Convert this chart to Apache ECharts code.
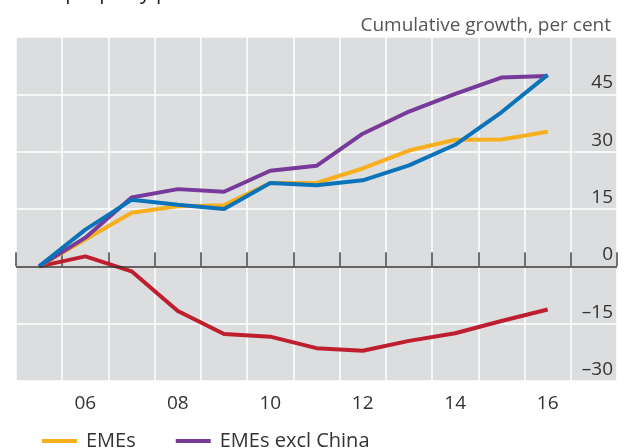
<!DOCTYPE html>
<html>
<head>
<meta charset="utf-8">
<script src="https://cdn.jsdelivr.net/npm/echarts@6/dist/echarts.min.js"></script>
<style>
  html, body { margin: 0; padding: 0; background: #fff; }
  #chart { width: 630px; height: 448px; }
</style>
</head>
<body>
<div id="chart"></div>
<script>
// years 2005..2017 (last slot empty)
const years = ["05", "06", "07", "08", "09", "10", "11", "12", "13", "14", "15", "16", "17"];

const emes = [0, 7, 14, 15.7, 16, 21.8, 21.8, 25.6, 30.3, 33.1, 33.2, 35.2];
const emesExChina = [0, 7.5, 18, 20.2, 19.5, 25, 26.3, 34.7, 40.5, 45.1, 49.4, 49.8];
const blueSeries = [0, 9.6, 17.4, 16.1, 15, 21.8, 21.2, 22.5, 26.4, 31.8, 40.3, 50.1];
const redSeries = [0, 2.6, -1.3, -11.7, -17.7, -18.4, -21.4, -22.1, -19.5, -17.5, -14.3, -11.3];

const yTicks = { min: -30, max: 60, step: 15 };

const font = "'Open Sans', 'Noto Sans', sans-serif";

const lineSeries = (name, data, color) => ({
  name: name,
  type: "line",
  data: data,
  symbol: "none",
  lineStyle: { color: color, width: 4 },
  itemStyle: { color: color },
  animation: false
});

const chart = echarts.init(document.getElementById("chart"), null, { renderer: "canvas" });

const orange = lineSeries("EMEs", emes, "#F8AF1E");
orange.markLine = {
  silent: true,
  symbol: "none",
  label: { show: false },
  lineStyle: { color: "#333", width: 1.5, type: "solid" },
  data: [{ yAxis: 0 }],
  animation: false
};

chart.setOption({
  animation: false,
  textStyle: { fontFamily: font },
  title: {
    text: "Cumulative growth, per cent",
    right: 14,
    top: 11,
    textStyle: { fontFamily: font, fontSize: 19, fontWeight: "normal", color: "#555" }
  },
  graphic: [{
    type: "text",
    left: 18,
    top: -17,
    style: { text: "Real property prices", font: "21px 'Open Sans'", fill: "#222" }
  }],
  legend: {
    left: 37,
    top: 426,
    itemWidth: 35,
    itemHeight: 4,
    itemGap: 40,
    icon: "rect",
    data: ["EMEs", "EMEs excl China"],
    textStyle: { fontFamily: font, fontSize: 20, color: "#333", padding: [0, 0, 0, 4] }
  },
  grid: {
    left: 16,
    right: 13,
    top: 37,
    bottom: 67,
    show: true,
    backgroundColor: "#DCDDDF",
    borderWidth: 0
  },
  xAxis: {
    type: "category",
    data: years,
    boundaryGap: true,
    axisLine: { show: false },
    axisTick: {
      show: true,
      inside: true,
      length: 14,
      interval: 0,
      lineStyle: { color: "#444", width: 1.5 }
    },
    splitLine: { show: true, interval: 0, lineStyle: { color: "#fff", width: 1.5 } },
    axisLabel: {
      interval: (idx) => idx % 2 === 1,
      margin: 13,
      fontFamily: font,
      fontSize: 19,
      color: "#333"
    }
  },
  yAxis: {
    type: "value",
    position: "right",
    min: yTicks.min,
    max: yTicks.max,
    interval: yTicks.step,
    axisLine: { show: false },
    axisTick: { show: false },
    splitLine: { show: true, lineStyle: { color: "#fff", width: 1.5 } },
    axisLabel: {
      inside: true,
      margin: 4,
      verticalAlign: "bottom",
      padding: [0, 0, 2, 0],
      fontFamily: font,
      fontSize: 19,
      color: "#333",
      formatter: (v) => v === yTicks.max ? "" : (v < 0 ? "\u2013" + Math.abs(v) : String(v))
    }
  },
  series: [
    lineSeries("Red", redSeries, "#BE1E2D"),
    orange,
    lineSeries("EMEs excl China", emesExChina, "#773A9A"),
    lineSeries("Blue", blueSeries, "#0B73BA")
  ]
});
</script>
</body>
</html>
